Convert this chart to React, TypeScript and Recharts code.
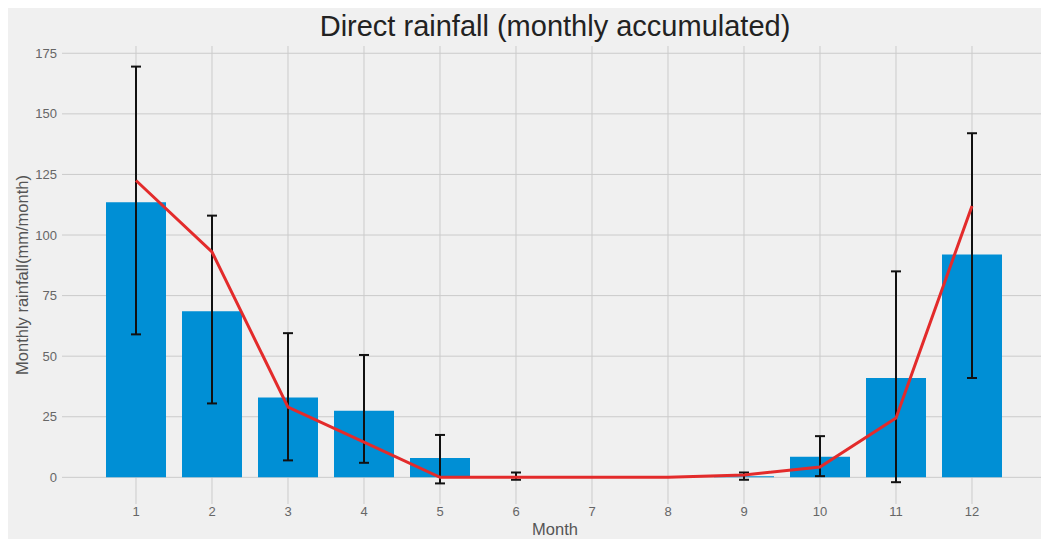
import { ComposedChart, Bar, Line, XAxis, YAxis, CartesianGrid, ErrorBar } from "recharts";

const months = [1, 2, 3, 4, 5, 6, 7, 8, 9, 10, 11, 12];
const barMean = [113.5, 68.5, 33, 27.5, 8, 0.5, 0, 0, 0.5, 8.5, 41, 92];
const lineMean = [122.5, 93, 29, 14.5, 0, 0, 0, 0, 1, 4.3, 24.5, 112];
const errLow = [59, 30.5, 7, 6, -2.5, -1, -0.3, -0.3, -1, 0.5, -2, 41];
const errHigh = [169.5, 108, 59.5, 50.5, 17.5, 2, 0.3, 0.3, 2, 17, 85, 142];
const yTicks = [0, 25, 50, 75, 100, 125, 150, 175];

const data = months.map((m, i) => ({
  month: m,
  bar: barMean[i],
  line: lineMean[i],
  err: [barMean[i] - errLow[i], errHigh[i] - barMean[i]],
}));

const font = "'Liberation Sans', Arial, sans-serif";
const tick = { fill: "#666", fontSize: 13, fontFamily: font };

// plot area runs a bit past the right edge, like the cropped original
export default function App() {
  return (
    <div style={{ position: "fixed", top: 8, left: 8, width: 1033, height: 531, background: "#f0f0f0", fontFamily: font, overflow: "hidden" }}>
      <div style={{ position: "absolute", top: 2, left: 47, width: 1000, textAlign: "center", fontSize: 29, color: "#222" }}>
        Direct rainfall (monthly accumulated)
      </div>
      <ComposedChart width={1041} height={531} data={data} margin={{ top: 38, right: 1, bottom: 10, left: 14 }}>
        <CartesianGrid stroke="#cbcbcb" strokeWidth={1} syncWithTicks horizontalValues={yTicks} />
        <XAxis
          dataKey="month"
          height={25}
          padding={{ left: 36, right: 38 }}
          tick={tick}
          tickLine={false}
          axisLine={false}
          tickSize={0}
          tickMargin={3}
          label={{ value: "Month", position: "insideBottom", offset: -6, fill: "#555", fontSize: 16.5, fontFamily: font }}
        />
        <YAxis
          width={40}
          domain={[-11, 178]}
          ticks={yTicks}
          allowDataOverflow
          tick={tick}
          tickLine={false}
          axisLine={false}
          tickSize={0}
          tickMargin={5}
          label={{
            value: "Monthly rainfall(mm/month)",
            angle: -90,
            position: "insideLeft",
            offset: 0,
            fill: "#555",
            fontSize: 16.5,
            fontFamily: font,
            style: { textAnchor: "middle" },
          }}
        />
        <Bar dataKey="bar" fill="#008fd5" barSize={60} isAnimationActive={false}>
          <ErrorBar dataKey="err" width={5} strokeWidth={2} stroke="#111" />
        </Bar>
        <Line type="linear" dataKey="line" stroke="#e32b2b" strokeWidth={3} dot={false} isAnimationActive={false} />
      </ComposedChart>
    </div>
  );
}
